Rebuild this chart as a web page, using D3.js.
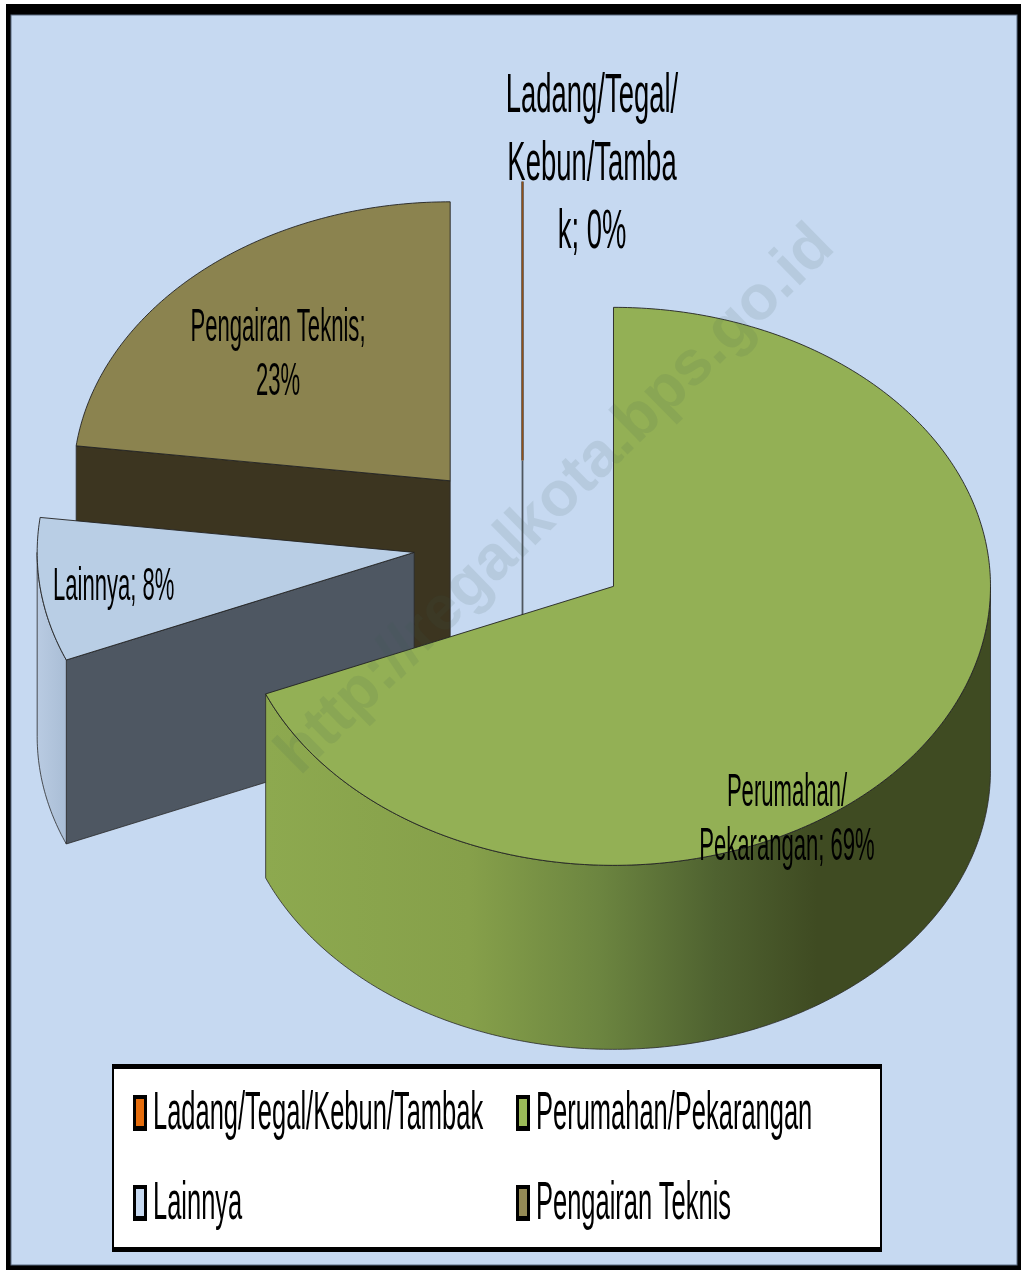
<!DOCTYPE html>
<html>
<head>
<meta charset="utf-8">
<title>Penggunaan Lahan</title>
<script src="https://cdn.jsdelivr.net/npm/d3@7"></script>
<style>
  html, body { margin: 0; padding: 0; background: #fff; }
  svg { display: block; }
  text { font-family: "Liberation Sans", Arial, sans-serif; fill: #000; }
</style>
</head>
<body>
<svg id="chart" width="1021" height="1270"></svg>
<script>
// data
const categories = ['Ladang/Tegal/Kebun/Tambak', 'Perumahan/Pekarangan', 'Lainnya', 'Pengairan Teknis']
const values = [0, 68.7, 8.3, 23]
const labelLines = [
    ['Ladang/Tegal/', 'Kebun/Tamba', 'k; 0%'],
    ['Perumahan/', 'Pekarangan; 69%'],
    ['Lainnya; 8%'],
    ['Pengairan Teknis;', '23%']
]

const topColors = ['#E46C0A', '#93B055', '#B9CEE5', '#8B834F']
const legendColors = ['#E46C0A', '#9BBB59', '#C6D9F1', '#948A54']
const faceColors = ['#555555', '#3F4B22', '#4E5762', '#3C3520']
const labelPos = [[592, 112, 'middle', 68, 56, 0.49], [787, 806, 'middle', 54, 46, 0.48], [53, 600, 'start', 54, 46, 0.48], [278, 341, 'middle', 54, 46, 0.48]]

const watermark = 'http://regalkota.bps.go.id'

// pie geometry
const cx = 522.5, cy = 541.5
const rx = 377, ry = 279, depth = 184
const explode = 0.29

const svg = d3.select('#chart')
const defs = svg.append('defs')

const x = d3.scaleLinear().domain([-1, 1]).range([-rx, rx])
const y = d3.scaleLinear().domain([-1, 1]).range([ry, -ry])

const greenWall = defs.append('linearGradient')
    .attr('id', 'wall1')
    .attr('gradientUnits', 'userSpaceOnUse')
    .attr('x1', x(-0.92)).attr('x2', x(1)).attr('y1', 0).attr('y2', 0)
greenWall.selectAll('stop')
    .data([[0, '#8DA94F'], [0.28, '#86A04A'], [0.46, '#6C8540'], [0.62, '#4F6230'], [0.76, '#3F4B22'], [1, '#3F4B22']])
    .enter().append('stop')
    .attr('offset', d => d[0])
    .attr('stop-color', d => d[1])

const paleWall = defs.append('linearGradient')
    .attr('id', 'wall2')
    .attr('gradientUnits', 'userSpaceOnUse')
    .attr('x1', x(-1)).attr('x2', x(-0.92)).attr('y1', 0).attr('y2', 0)
paleWall.append('stop').attr('offset', 0).attr('stop-color', '#B9CBE2')
paleWall.append('stop').attr('offset', 1).attr('stop-color', '#A9BDD5')

defs.append('filter').attr('id', 'soft')
    .append('feGaussianBlur').attr('stdDeviation', 0.45)

// frame
svg.append('rect').attr('x', 6).attr('y', 4).attr('width', 1015).attr('height', 1266).attr('fill', '#000')
svg.append('rect').attr('x', 11).attr('y', 15).attr('width', 1006).attr('height', 1250)
    .attr('fill', '#C6D9F1').attr('stroke', '#5b6a80').attr('stroke-width', 1)

const pie = d3.pie().sort(null).value(d => d)
const slices = pie(values).map((s, i) => {
    const mid = (s.startAngle + s.endAngle) / 2
    return {
        ...s,
        i,
        ox: cx + explode * x(Math.sin(mid)),
        oy: cy + explode * y(Math.cos(mid))
    }
})

const line = d3.line()

function arcPoints(a0, a1) {
    const n = Math.max(2, Math.ceil((a1 - a0) * 80))
    return d3.range(n + 1).map(k => {
        const a = a0 + (a1 - a0) * k / n
        return [x(Math.sin(a)), y(Math.cos(a))]
    })
}

const chart = svg.append('g')

slices.slice().sort((a, b) => a.oy - b.oy).forEach(s => {
    const g = chart.append('g').attr('transform', `translate(${s.ox},${s.oy})`)
    const a0 = s.startAngle, a1 = s.endAngle

    // zero slice is only a thin upright sheet
    if (a1 - a0 < 1e-6) {
        const rim = [x(Math.sin(a0)), y(Math.cos(a0))]
        g.append('path').attr('d', line([[0, 0], [0, depth]])).attr('stroke', '#4f565e').attr('stroke-width', 1.8)
        g.append('path').attr('d', line([[0, 0], rim])).attr('stroke', '#4f3a26').attr('stroke-width', 2.4)
        g.append('path').attr('d', line([[0, 0], rim])).attr('stroke', topColors[s.i]).attr('stroke-width', 0.8).attr('opacity', 0.55)
        return
    }

    // cut face on the start side
    if (a0 > Math.PI) {
        const rim = [x(Math.sin(a0)), y(Math.cos(a0))]
        g.append('path')
            .attr('d', line([[0, 0], rim, [rim[0], rim[1] + depth], [0, depth]]) + 'Z')
            .attr('fill', faceColors[s.i])
            .attr('stroke', '#2a2a2a').attr('stroke-width', 0.8)
    }

    // outer wall, front half of the ellipse only
    const w0 = Math.max(a0, Math.PI / 2), w1 = Math.min(a1, 3 * Math.PI / 2)
    if (w1 > w0) {
        const top = arcPoints(w0, w1)
        const bottom = top.map(p => [p[0], p[1] + depth]).reverse()
        g.append('path')
            .attr('d', line(top.concat(bottom)) + 'Z')
            .attr('fill', `url(#wall${s.i})`)
            .attr('stroke', '#2a2a2a').attr('stroke-width', 0.8)
    }

    // top surface
    g.append('path')
        .attr('d', line([[0, 0]].concat(arcPoints(a0, a1))) + 'Z')
        .attr('fill', topColors[s.i])
        .attr('stroke', '#222').attr('stroke-width', 0.9)
})

// watermark
svg.append('text')
    .attr('transform', 'translate(553,497) rotate(-44.5)')
    .attr('text-anchor', 'middle')
    .attr('dy', 22)
    .attr('font-size', 63)
    .attr('font-weight', 'bold')
    .style('fill', '#3c5a50')
    .attr('opacity', 0.11)
    .text(watermark)

// data labels
const labels = svg.append('g').attr('filter', 'url(#soft)')
labelLines.forEach((lines, i) => {
    const [lx, ly, anchor, step, size, sx] = labelPos[i]
    lines.forEach((t, k) => {
        labels.append('text')
            .attr('transform', `translate(${lx},${ly + k * step}) scale(${sx},1)`)
            .attr('text-anchor', anchor)
            .attr('font-size', size)
            .text(t)
    })
})

// legend
svg.append('rect').attr('x', 112).attr('y', 1064).attr('width', 770).attr('height', 188).attr('fill', '#000')
svg.append('rect').attr('x', 114).attr('y', 1069).attr('width', 766).attr('height', 178).attr('fill', '#fff')

const legendX = d3.scaleOrdinal().domain([0, 1]).range([133, 516])
const legendY = d3.scaleOrdinal().domain([0, 1]).range([1095, 1185])

const legend = svg.append('g').attr('filter', 'url(#soft)')
const items = legend.selectAll('g')
    .data(categories)
    .enter()
    .append('g')
    .attr('transform', (d, i) => `translate(${legendX(i % 2)},${legendY(Math.floor(i / 2))})`)

items.append('rect').attr('width', 14).attr('height', 36).attr('fill', '#000')
items.append('rect').attr('x', 3).attr('y', 4).attr('width', 8).attr('height', 27)
    .attr('fill', (d, i) => legendColors[i])
items.append('text')
    .attr('transform', 'translate(20,34) scale(0.472,1)')
    .attr('font-size', 54)
    .text(d => d)
</script>
</body>
</html>
